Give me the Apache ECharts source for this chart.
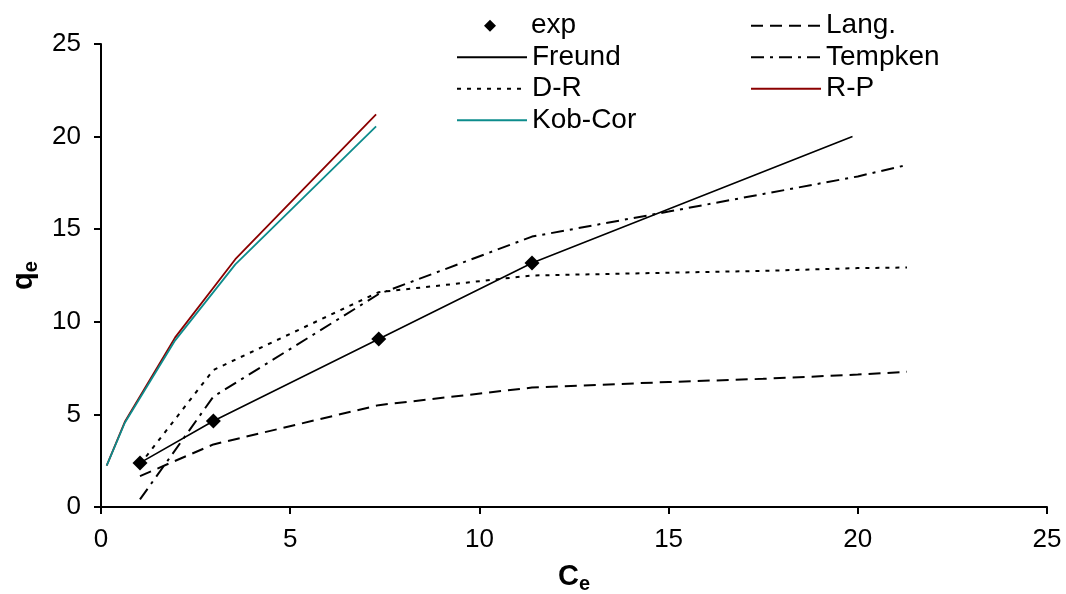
<!DOCTYPE html>
<html>
<head>
<meta charset="utf-8">
<script src="https://cdn.jsdelivr.net/npm/echarts@6/dist/echarts.min.js"></script>
<style>
html,body{margin:0;padding:0;background:#fff;}
#chart{width:1066px;height:594px;}
</style>
</head>
<body>
<div id="chart"></div>
<script>
// ---- data ----
const ceExp = [1.03, 2.97, 7.34, 11.39];
const qExp = [2.38, 4.64, 9.07, 13.17];
const ceFreund = [1.03, 2.97, 7.34, 11.39, 19.86];
const qFreund = [2.38, 4.64, 9.07, 13.17, 20.0];
const ceModel = [1.03, 2.97, 7.34, 11.39, 15.0, 17.5, 20.0, 21.3];
const qLang = [1.67, 3.38, 5.5, 6.45, 6.75, 6.92, 7.15, 7.3];
const qTempken = [0.41, 5.96, 11.5, 14.6, 15.95, 16.9, 17.85, 18.47];
const qDR = [2.3, 7.4, 11.6, 12.5, 12.65, 12.75, 12.9, 12.93];
const ceRP = [0.15, 0.63, 1.96, 3.55, 7.27];
const qRP = [2.23, 4.6, 9.16, 13.38, 21.2];
const qKob = [2.23, 4.55, 9.0, 13.1, 20.55];
const xTicks = [0, 5, 10, 15, 20, 25];
const yTicks = [0, 5, 10, 15, 20, 25];

const zip = (xs, ys) => xs.map((x, i) => [x, ys[i]]);
const FONT = "'Liberation Sans', Arial, sans-serif";

const chart = echarts.init(document.getElementById('chart'), null, {renderer: 'canvas'});

const legendText = {fontFamily: FONT, fontSize: 28, color: '#000', lineHeight: 31.5};
const hideSym = name => ({name: name, itemStyle: {opacity: 0}});

const axisNameRich = {
  a: {fontFamily: FONT, fontSize: 29, fontWeight: 'bold', color: '#000'},
  b: {fontFamily: FONT, fontSize: 20, fontWeight: 'bold', color: '#000', padding: [14, 0, 0, 0]}
};

chart.setOption({
  animation: false,
  backgroundColor: '#fff',
  grid: {left: 101, right: 19, top: 44, bottom: 87, containLabel: false, outerBoundsMode: 'none'},
  legend: [
    {
      data: [{name: 'exp'}],
      orient: 'vertical', left: 484, top: 10, padding: 0,
      itemWidth: 12, itemHeight: 12, itemGap: 0,
      textStyle: Object.assign({}, legendText, {padding: [0, 0, 0, 30]}), selectedMode: false
    },
    {
      data: [hideSym('Freund'), hideSym('D-R'), hideSym('Kob-Cor')],
      orient: 'vertical', left: 456, top: 41.5, padding: 0,
      itemWidth: 70, itemHeight: 12, itemGap: 0,
      textStyle: legendText, selectedMode: false
    },
    {
      data: [hideSym('Lang.'), hideSym('Tempken'), hideSym('R-P')],
      orient: 'vertical', left: 750, top: 10, padding: 0,
      itemWidth: 70, itemHeight: 12, itemGap: 0,
      textStyle: legendText, selectedMode: false
    }
  ],
  xAxis: {
    type: 'value', min: xTicks[0], max: xTicks[xTicks.length - 1], interval: 5,
    name: '{a|C}{b|e}', nameLocation: 'middle', nameGap: 53,
    nameTextStyle: {rich: axisNameRich},
    axisLine: {show: true, onZero: false, lineStyle: {color: '#000', width: 2}},
    axisTick: {show: true, inside: false, length: 7, lineStyle: {color: '#000', width: 2}},
    axisLabel: {fontFamily: FONT, fontSize: 26, color: '#000', margin: 20},
    splitLine: {show: false}
  },
  yAxis: {
    type: 'value', min: yTicks[0], max: yTicks[yTicks.length - 1], interval: 5,
    name: '{a|q}{b|e}', nameLocation: 'middle', nameGap: 56, nameRotate: 90,
    nameTextStyle: {rich: axisNameRich},
    axisLine: {show: true, onZero: false, lineStyle: {color: '#000', width: 2}},
    axisTick: {show: true, inside: false, length: 7, lineStyle: {color: '#000', width: 2}},
    axisLabel: {fontFamily: FONT, fontSize: 26, color: '#000', margin: 20},
    splitLine: {show: false}
  },
  series: [
    {
      name: 'Lang.', type: 'line', data: zip(ceModel, qLang), symbol: 'none',
      lineStyle: {color: '#000', width: 2, type: [12, 7]}, itemStyle: {color: '#000'}, z: 2
    },
    {
      name: 'Tempken', type: 'line', data: zip(ceModel, qTempken), symbol: 'none',
      lineStyle: {color: '#000', width: 2, type: [13, 6, 3, 6]}, itemStyle: {color: '#000'}, z: 2
    },
    {
      name: 'D-R', type: 'line', data: zip(ceModel, qDR), symbol: 'none',
      lineStyle: {color: '#000', width: 2, type: [4, 6]}, itemStyle: {color: '#000'}, z: 2
    },
    {
      name: 'Freund', type: 'line', data: zip(ceFreund, qFreund), symbol: 'none',
      lineStyle: {color: '#000', width: 1.6}, itemStyle: {color: '#000'}, z: 3
    },
    {
      name: 'R-P', type: 'line', data: zip(ceRP, qRP), symbol: 'none',
      lineStyle: {color: '#8b0000', width: 1.8}, itemStyle: {color: '#8b0000'}, z: 2
    },
    {
      name: 'Kob-Cor', type: 'line', data: zip(ceRP, qKob), symbol: 'none',
      lineStyle: {color: '#0d8c8c', width: 1.8}, itemStyle: {color: '#0d8c8c'}, z: 2
    },
    {
      name: 'exp', type: 'scatter', data: zip(ceExp, qExp), symbol: 'diamond', symbolSize: 15,
      itemStyle: {color: '#000', opacity: 1}, z: 5
    }
  ]
});
</script>
</body>
</html>
